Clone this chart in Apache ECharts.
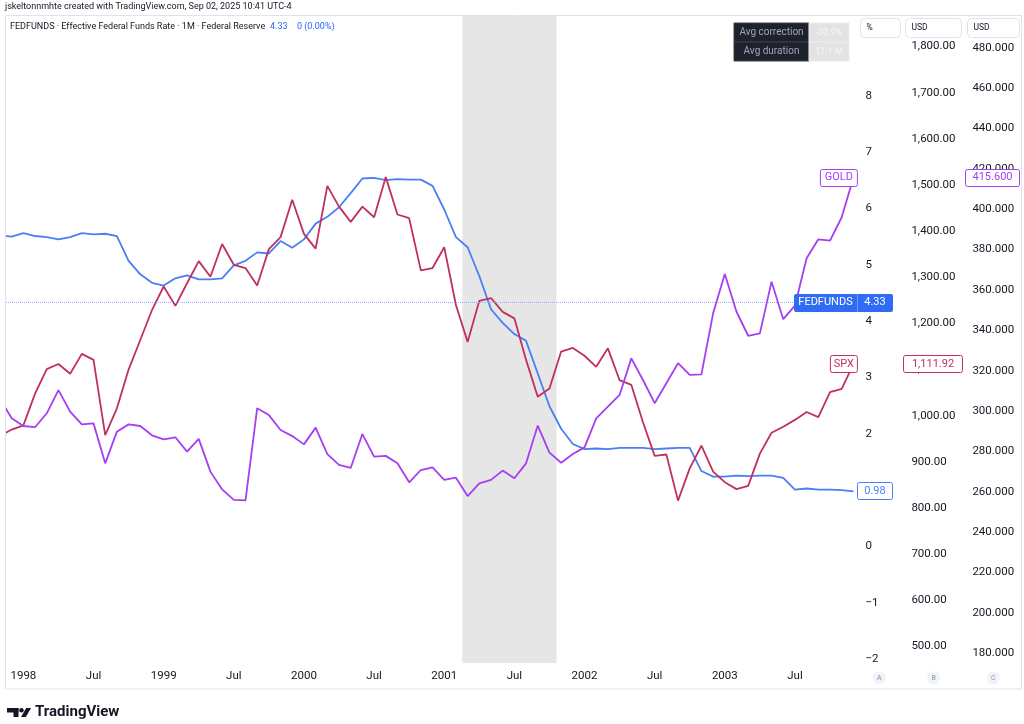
<!DOCTYPE html>
<html>
<head>
<meta charset="utf-8">
<script src="https://cdn.jsdelivr.net/npm/echarts@6/dist/echarts.min.js"></script>
<style>
  html, body { margin: 0; padding: 0; background: #fff; }
  #chart { width: 1024px; height: 724px; }
</style>
</head>
<body>
<div id="chart"></div>
<script>
// monthly bars, Nov 1997 .. Dec 2003
const months = [
  '1997-11', '1997-12',
  '1998-01', '1998-02', '1998-03', '1998-04', '1998-05', '1998-06', '1998-07', '1998-08', '1998-09', '1998-10', '1998-11', '1998-12',
  '1999-01', '1999-02', '1999-03', '1999-04', '1999-05', '1999-06', '1999-07', '1999-08', '1999-09', '1999-10', '1999-11', '1999-12',
  '2000-01', '2000-02', '2000-03', '2000-04', '2000-05', '2000-06', '2000-07', '2000-08', '2000-09', '2000-10', '2000-11', '2000-12',
  '2001-01', '2001-02', '2001-03', '2001-04', '2001-05', '2001-06', '2001-07', '2001-08', '2001-09', '2001-10', '2001-11', '2001-12',
  '2002-01', '2002-02', '2002-03', '2002-04', '2002-05', '2002-06', '2002-07', '2002-08', '2002-09', '2002-10', '2002-11', '2002-12',
  '2003-01', '2003-02', '2003-03', '2003-04', '2003-05', '2003-06', '2003-07', '2003-08', '2003-09', '2003-10', '2003-11', '2003-12'
];

// FEDFUNDS, %
const fedfunds = [
  5.52, 5.50,
  5.56, 5.51, 5.49, 5.45, 5.49, 5.56, 5.54, 5.55, 5.51, 5.07, 4.83, 4.68,
  4.63, 4.76, 4.81, 4.74, 4.74, 4.76, 4.99, 5.07, 5.22, 5.20, 5.42, 5.30,
  5.45, 5.73, 5.85, 6.02, 6.27, 6.53, 6.54, 6.50, 6.52, 6.51, 6.51, 6.40,
  5.98, 5.49, 5.31, 4.80, 4.21, 3.97, 3.77, 3.65, 3.07, 2.49, 2.09, 1.82,
  1.73, 1.74, 1.73, 1.75, 1.75, 1.75, 1.73, 1.74, 1.75, 1.75, 1.34, 1.24,
  1.24, 1.26, 1.25, 1.26, 1.26, 1.22, 1.01, 1.03, 1.01, 1.01, 1.00, 0.98
];

// SPX, USD
const spx = [
  956, 970,
  979, 1048, 1101, 1112, 1091, 1134, 1121, 958, 1016, 1100, 1164, 1229,
  1280, 1238, 1287, 1335, 1301, 1372, 1327, 1320, 1282, 1361, 1387, 1468,
  1394, 1362, 1498, 1453, 1420, 1453, 1430, 1517, 1436, 1428, 1315, 1320,
  1365, 1240, 1160, 1249, 1255, 1225, 1211, 1121, 1041, 1059, 1139, 1147,
  1130, 1106, 1146, 1077, 1067, 986, 913, 916, 816, 886, 935, 879,
  856, 841, 848, 918, 963, 976, 991, 1008, 997, 1051, 1058, 1111.92
];

// GOLD, USD
const gold = [
  306.0, 296.4,
  292.6, 292.0, 298.9, 310.4, 299.7, 293.4, 293.9, 274.1, 289.8, 293.4, 292.6, 288.0,
  286.0, 287.0, 279.9, 286.2, 270.0, 261.2, 256.0, 255.8, 301.4, 298.0, 290.6, 287.6,
  283.5, 291.8, 278.7, 273.3, 271.8, 288.6, 277.4, 277.8, 274.1, 264.7, 270.8, 272.1,
  265.9, 267.0, 257.9, 264.2, 265.9, 270.5, 266.7, 274.1, 292.8, 279.4, 274.4, 278.7,
  282.0, 296.4, 302.2, 308.0, 326.1, 315.4, 303.9, 313.8, 323.7, 317.9, 318.2, 348.4,
  367.9, 349.2, 337.3, 338.5, 364.1, 345.5, 352.2, 375.7, 385.1, 384.4, 396.0, 415.6
];

const fedfundsNow = 4.33;
// recession band (Mar - Nov 2001), in month steps from the first bar
const recessionBand = [39.55, 47.6];

const BLUE = '#4a7ef5';
const RED = '#c0305f';
const PURPLE = '#a63ef2';
const TEXT = '#131722';
const FONT = 'Roboto';

const chart = echarts.init(document.getElementById('chart'));

// three panes share one x range, each with its own price scale
const left = -0.7, width = 854.1;
const grids = [
  {left: left, width: width, top: 39.3, height: 620},      // % scale
  {left: left, width: width, top: 46.5, height: 600},      // SPX scale
  {left: left, width: width, top: 47.7, height: 605.6}     // GOLD scale
];

function xAxisFor(i) {
  return {
    type: 'category', gridIndex: i, data: months, boundaryGap: false,
    show: i === 0,
    axisLine: {show: false}, axisTick: {show: false}, splitLine: {show: false},
    axisLabel: {
      margin: 11, color: TEXT, fontSize: 11.5, fontFamily: FONT,
      interval: (idx, val) => val.endsWith('-01') || val.endsWith('-07'),
      formatter: val => val.endsWith('-01') ? val.slice(0, 4) : 'Jul'
    }
  };
}

function yAxisFor(i, min, max, step, margin, fmt, showMax) {
  return {
    type: 'value', gridIndex: i, position: 'right', min: min, max: max, interval: step,
    axisLine: {show: false}, axisTick: {show: false}, splitLine: {show: false},
    axisLabel: {
      margin: margin, color: TEXT, fontSize: 11.5, fontFamily: FONT,
      showMaxLabel: showMax, formatter: fmt
    }
  };
}

const option = {
  animation: false,
  backgroundColor: '#fff',
  grid: grids,
  xAxis: [xAxisFor(0), xAxisFor(1), xAxisFor(2)],
  yAxis: [
    yAxisFor(0, -2, 9, 1, 12, v => v < 0 ? '\u2212' + Math.abs(v) : String(v), false),
    yAxisFor(1, 500, 1800, 100, 58,
      v => v.toLocaleString('en-US', {minimumFractionDigits: 2, maximumFractionDigits: 2}), true),
    yAxisFor(2, 180, 480, 20, 119, v => v.toFixed(3), true)
  ],
  series: [
    {
      name: 'FEDFUNDS', type: 'line', xAxisIndex: 0, yAxisIndex: 0, data: fedfunds,
      symbol: 'none', color: BLUE, lineStyle: {width: 1.8, color: BLUE}, z: 3,
      markLine: {
        silent: true, symbol: 'none', label: {show: false},
        lineStyle: {type: 'dotted', color: '#8fb0fb', width: 1},
        data: [{yAxis: fedfundsNow}]
      }
    },
    {
      name: 'SPX', type: 'line', xAxisIndex: 1, yAxisIndex: 1, data: spx,
      symbol: 'none', color: RED, lineStyle: {width: 1.8, color: RED}, z: 4
    },
    {
      name: 'GOLD', type: 'line', xAxisIndex: 2, yAxisIndex: 2, data: gold,
      symbol: 'none', color: PURPLE, lineStyle: {width: 1.8, color: PURPLE}, z: 5
    }
  ]
};
chart.setOption(option);

// ---- overlay: pane frame, labels, badges
function rect(x, y, w, h, fill, stroke, r, z) {
  return {type: 'rect', z: z || 100, silent: true,
    shape: {x: x, y: y, width: w, height: h, r: r || 0},
    style: {fill: fill, stroke: stroke || null, lineWidth: 1}};
}
function text(x, y, str, color, size, align, weight, z) {
  return {type: 'text', z: z || 101, silent: true,
    style: {x: x, y: y, text: str, fill: color,
      font: (weight || 'normal') + ' ' + size + 'px ' + FONT,
      textAlign: align || 'left', textVerticalAlign: 'middle'}};
}
function px(axis, idx, val) {
  return chart.convertToPixel({xAxisIndex: axis, yAxisIndex: axis}, [idx, val]);
}
function xAt(step) {
  // linear between whole category positions
  const a = Math.floor(step), b = a + 1;
  const pa = px(0, a, 0)[0], pb = px(0, b, 0)[0];
  return pa + (pb - pa) * (step - a);
}

const last = months.length - 1;
const pGold = px(2, last, gold[last]);
const pSpx = px(1, last, spx[last]);
const pFed = px(0, last, fedfunds[last]);
const pNow = px(0, 0, fedfundsNow);
const bandX0 = xAt(recessionBand[0]), bandX1 = xAt(recessionBand[1]);
const plotBottom = px(0, 0, -2)[1] + 3.7;

const g = [];
// recession shading behind the lines
g.push(rect(bandX0, 16, bandX1 - bandX0, plotBottom - 16, '#e6e6e6', null, 0, 1));
// white margin left of the pane
g.push(rect(0, 0, 5.5, 724, '#fff', null, 0, 99));
// pane border
g.push({type: 'rect', z: 102, silent: true, shape: {x: 5.5, y: 15.5, width: 1016, height: 673.5},
  style: {fill: null, stroke: '#e0e3eb', lineWidth: 1}});

// header + legend
g.push(text(5, 7, 'jskeltonnmhte created with TradingView.com, Sep 02, 2025 10:41 UTC-4', TEXT, 9));
g.push(text(10, 27, 'FEDFUNDS \u00b7 Effective Federal Funds Rate \u00b7 1M \u00b7 Federal Reserve', TEXT, 9));
g.push(text(270, 27, fedfundsNow.toFixed(2), '#2962ff', 9));
g.push(text(297, 27, '0 (0.00%)', '#2962ff', 9));

// avg correction / duration panel
g.push(rect(734, 23, 75, 19, '#1e222d', '#3a3e4a'));
g.push(rect(734, 42, 75, 19, '#1e222d', '#3a3e4a'));
g.push(rect(809, 23, 40, 19, '#e3e3e3', '#ececec'));
g.push(rect(809, 42, 40, 19, '#e3e3e3', '#ececec'));
g.push(text(771.5, 32.5, 'Avg correction', '#a3a6af', 10, 'center'));
g.push(text(771.5, 51.5, 'Avg duration', '#a3a6af', 10, 'center'));
g.push(text(829, 32.5, '-33.9%', '#f6f6f6', 9, 'center'));
g.push(text(829, 51.5, '11.1 M', '#f6f6f6', 9, 'center'));

// price scale headers
[[860.5, 40, '%'], [905.5, 56, 'USD'], [967.5, 52, 'USD']].forEach(h => {
  g.push(rect(h[0], 18.5, h[1], 19, '#fff', '#e0e3eb', 4));
  g.push(text(h[0] + 6, 28, h[2], TEXT, 8.5));
});

// scale letters at the bottom
[[879.3, 'A'], [933.7, 'B'], [993.3, 'C']].forEach(c => {
  g.push({type: 'circle', z: 100, silent: true, shape: {cx: c[0], cy: 677.7, r: 6.5},
    style: {fill: '#f0f3fa'}});
  g.push(text(c[0], 678, c[1], '#8a8d96', 7, 'center'));
});

// series badges at the last bar
function badge(x, cy, w, str, color) {
  g.push(rect(x + 0.5, Math.round(cy) - 8.5, w, 17, '#fff', color, 2));
  g.push(text(x + 0.5 + w / 2, cy, str, color, 11, 'center'));
}
badge(pGold[0] - 33.5, pGold[1], 37, 'GOLD', PURPLE);
badge(965, pGold[1], 54, gold[last].toFixed(3), PURPLE);
badge(pSpx[0] - 23.5, pSpx[1], 27, 'SPX', RED);
badge(903, pSpx[1],
  59, spx[last].toLocaleString('en-US', {minimumFractionDigits: 2}), RED);
badge(857, pFed[1], 35, fedfunds[last].toFixed(2), BLUE);

// current FEDFUNDS value tag
g.push(rect(794, Math.round(pNow[1]) - 9, 99, 18, '#2f6bf3', null, 2));
g.push({type: 'line', z: 101, silent: true,
  shape: {x1: 857.5, y1: Math.round(pNow[1]) - 9, x2: 857.5, y2: Math.round(pNow[1]) + 9},
  style: {stroke: '#6e97f7', lineWidth: 1}});
g.push(text(825.5, pNow[1], 'FEDFUNDS', '#fff', 11, 'center'));
g.push(text(875, pNow[1], fedfundsNow.toFixed(2), '#fff', 11, 'center'));

// TradingView logo
g.push(rect(7, 708, 11.5, 4.5, TEXT, null, 0));
g.push(rect(13.5, 708, 5, 9, TEXT, null, 0));
g.push({type: 'circle', z: 100, silent: true, shape: {cx: 21.5, cy: 710.3, r: 2.2}, style: {fill: TEXT}});
g.push({type: 'polygon', z: 100, silent: true,
  shape: {points: [[21, 717], [25.8, 717], [31, 708], [26.2, 708]]}, style: {fill: TEXT}});
g.push(text(35, 712.5, 'TradingView', TEXT, 15, 'left', 'bold'));

chart.setOption({graphic: {elements: g}});
</script>
</body>
</html>
